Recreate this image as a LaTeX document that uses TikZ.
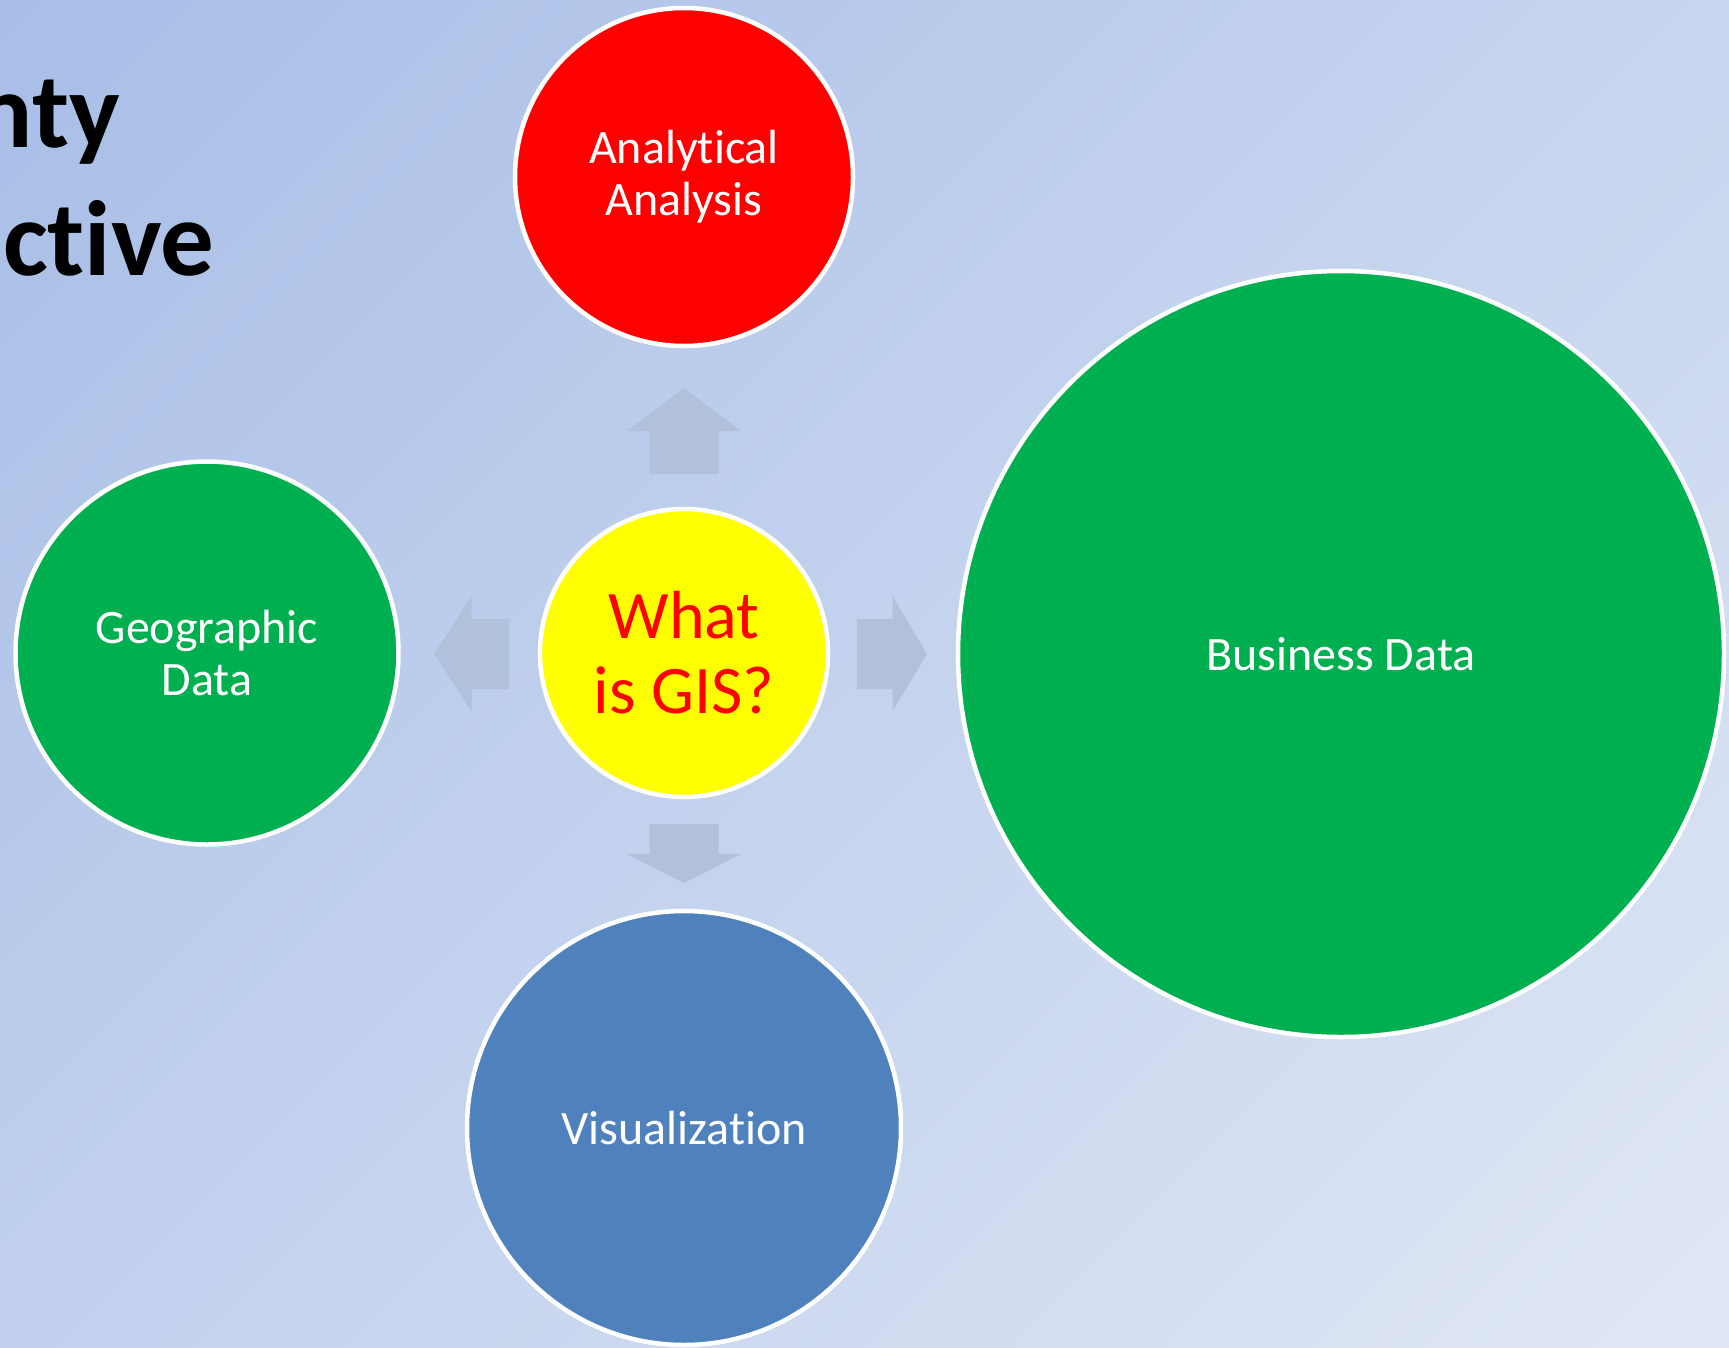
\documentclass[tikz,border=0pt]{standalone}
\usepackage{fontspec}
\setmainfont{Carlito}[Ligatures={NoCommon}]
\definecolor{bgA}{RGB}{168,190,231}
\definecolor{bgB}{RGB}{224,231,245}
\definecolor{arrowc}{RGB}{177,193,220}
\definecolor{gisred}{RGB}{255,0,0}
\definecolor{gisyellow}{RGB}{255,255,0}
\definecolor{gisgreen}{RGB}{0,176,80}
\definecolor{gisblue}{RGB}{79,129,189}
\pgfdeclareverticalshading{bgshade}{100bp}{color(0bp)=(bgB); color(14.6bp)=(bgB); color(85.4bp)=(bgA); color(100bp)=(bgA)}
\begin{document}
\begin{tikzpicture}[x=1pt,y=-1pt,
  bubble/.style={circle,draw=white,line width=4.5pt,inner sep=0pt,align=center,
    text=white,font=\fontsize{48}{52}\selectfont},
  blockarrow/.style={fill=arrowc,draw=none},
  titletext/.style={anchor=base east,inner sep=0pt,text=black,
    font=\bfseries\fontsize{107}{128}\selectfont}]
\useasboundingbox (0,0) rectangle (1729,1347);
\clip (0,0) rectangle (1729,1347);
\shade[shading=bgshade,shading angle=45] (0,0) rectangle (1729,1347);
% title fragments
\node[titletext] (t1) at (120,147) {nty};
\node[titletext] (t2) at (215,275) {ective};
% block arrows
\fill[blockarrow] (649.5,474) -- (649.5,431) -- (627,431) -- (684,388) -- (741,431) -- (718.5,431) -- (718.5,474) -- cycle;
\fill[blockarrow] (649.5,824) -- (718.5,824) -- (718.5,854) -- (741,854) -- (684,883) -- (627,854) -- (649.5,854) -- cycle;
\fill[blockarrow] (509,619) -- (471.5,619) -- (471.5,596) -- (434,654) -- (471.5,711) -- (471.5,689) -- (509,689) -- cycle;
\fill[blockarrow] (857,619) -- (892.5,619) -- (892.5,596) -- (927,654) -- (892.5,711) -- (892.5,689) -- (857,689) -- cycle;
% bubbles
\node[bubble,fill=gisred,minimum size=338pt] (ana) at (684,177) {Analytical\\Analysis};
\node[bubble,fill=gisgreen,minimum size=383pt] (geo) at (207,653) {Geographic\\Data};
\node[bubble,fill=gisyellow,minimum size=288pt,text=gisred,font=\fontsize{68}{75}\selectfont] (gis) at (684,653) {What\\is GIS?};
\node[bubble,fill=gisgreen,minimum size=766pt] (bus) at (1341,654) {Business Data};
\node[bubble,fill=gisblue,minimum size=434pt] (vis) at (684,1128) {Visualization};
\end{tikzpicture}
\end{document}
